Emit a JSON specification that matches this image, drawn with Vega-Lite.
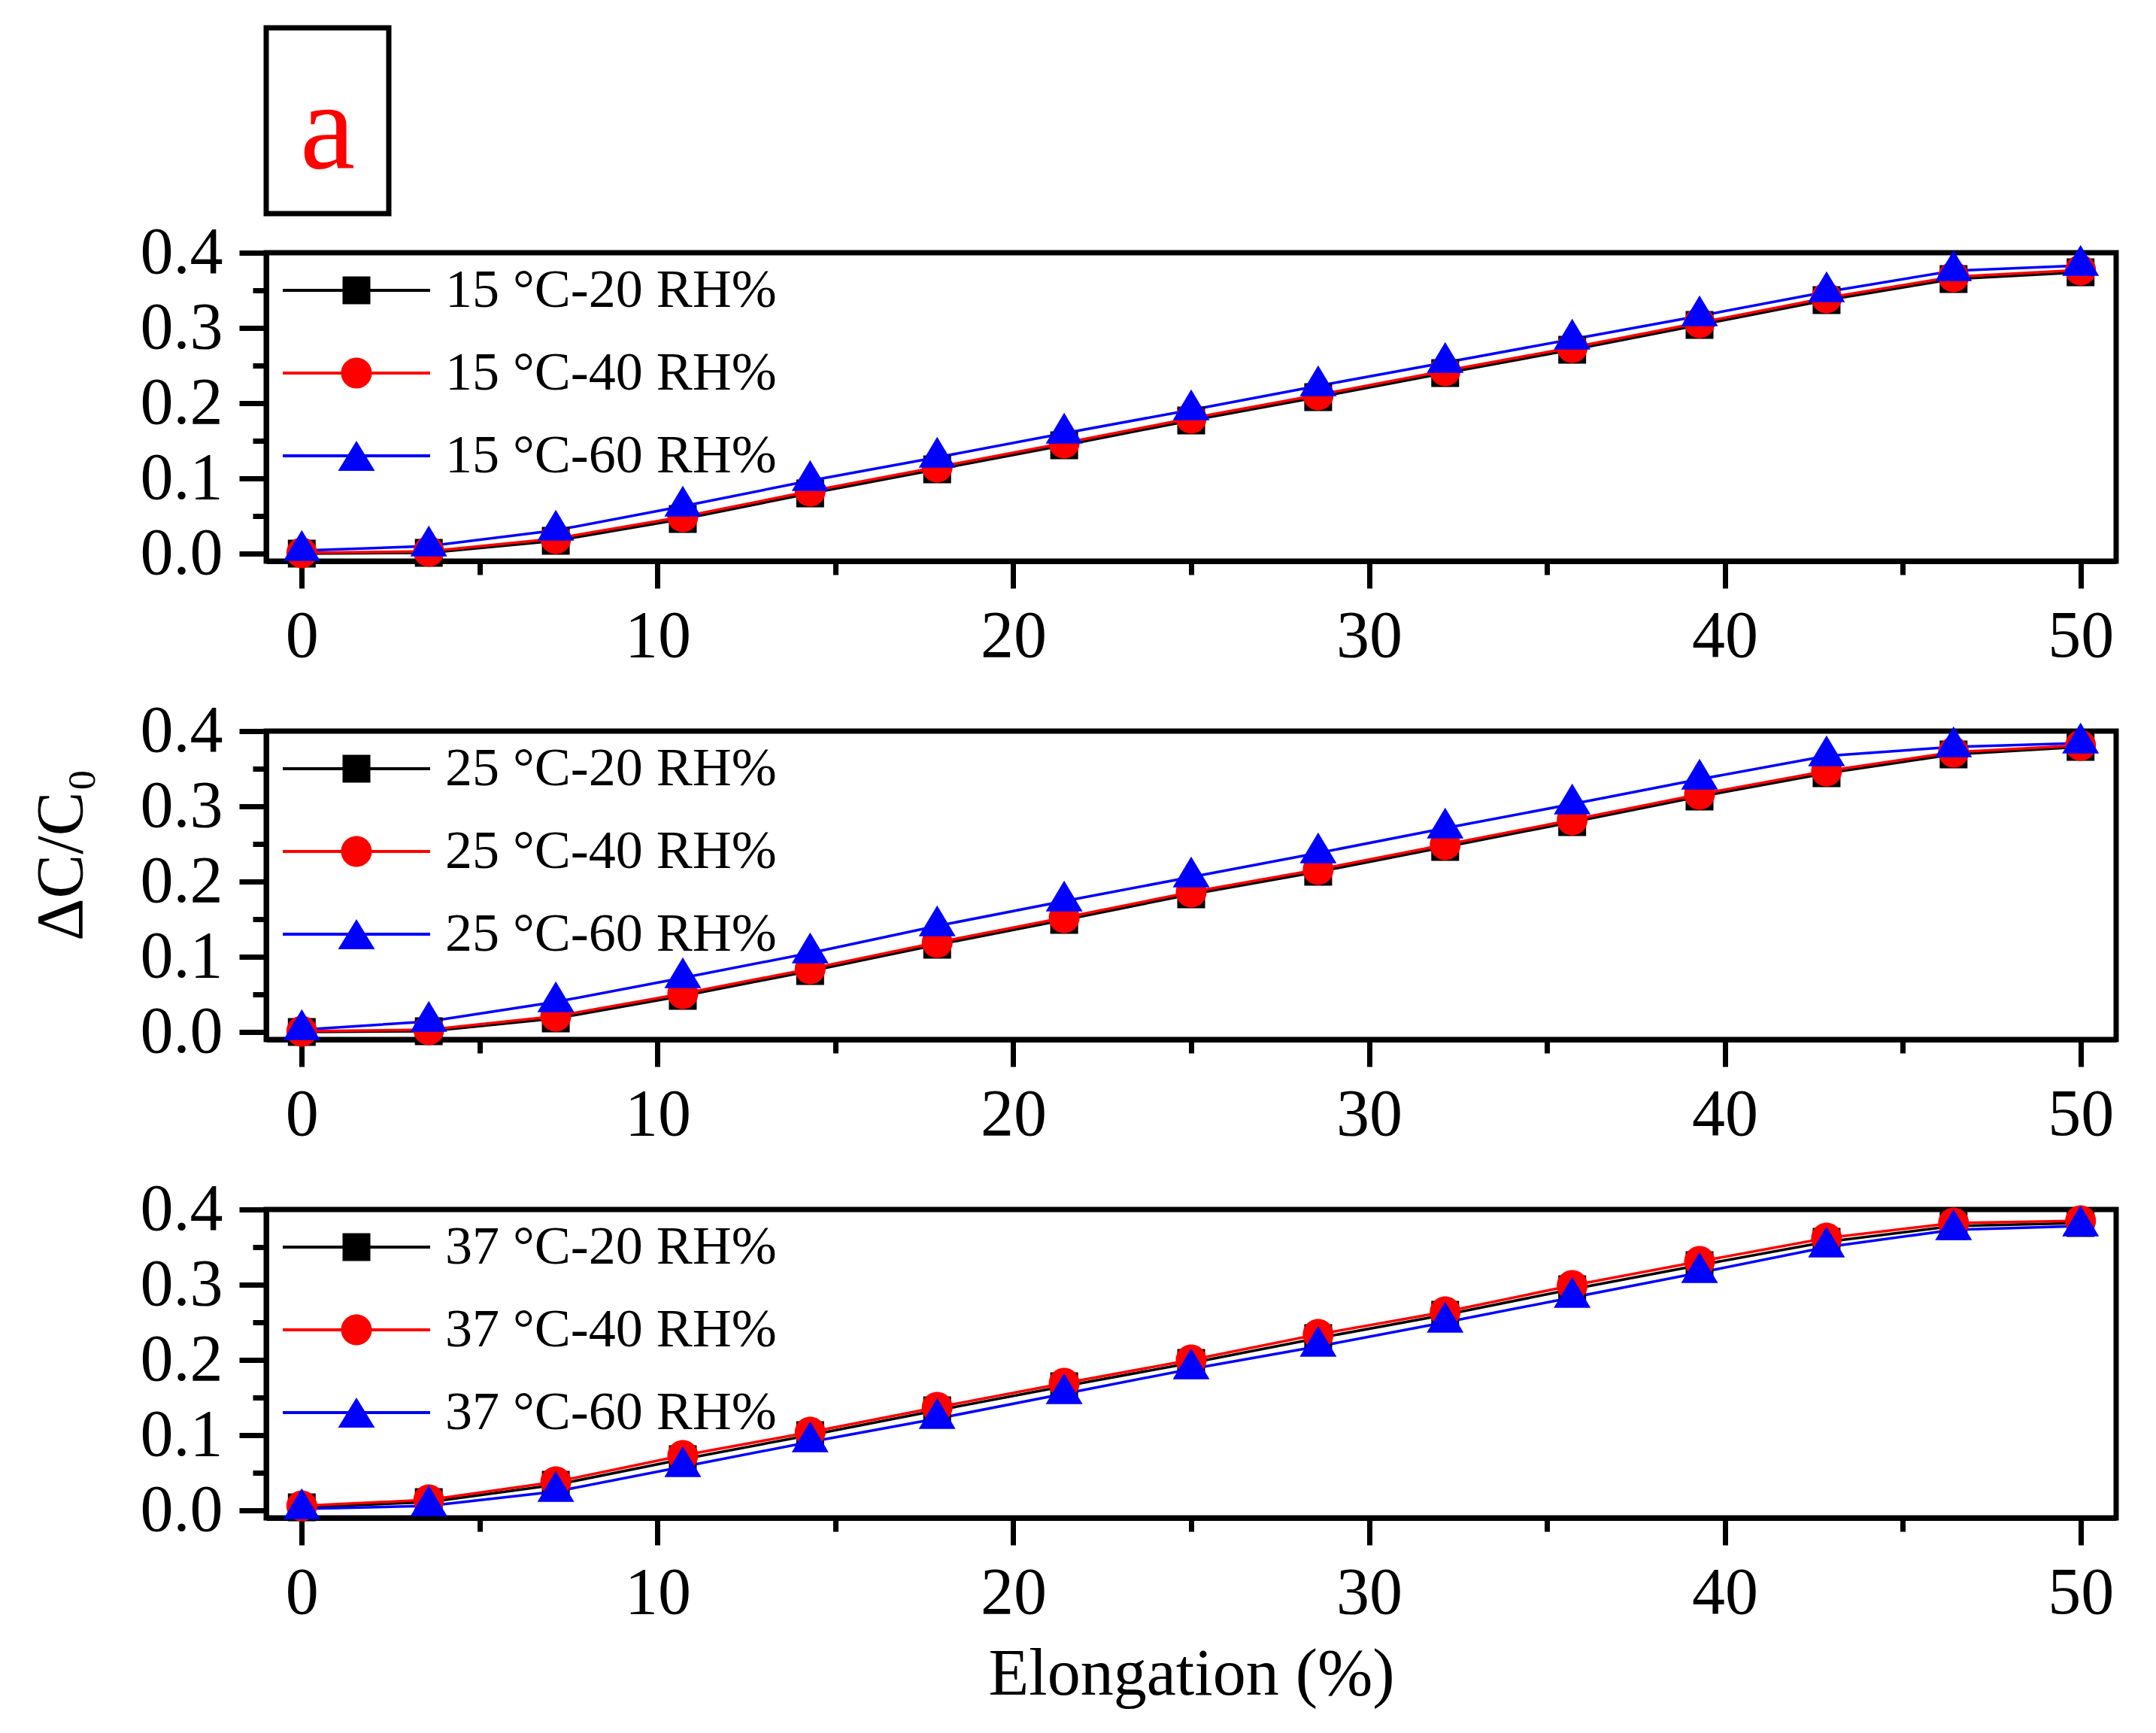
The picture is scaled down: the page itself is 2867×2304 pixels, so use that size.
{
  "$schema": "https://vega.github.io/schema/vega-lite/v6.json",
  "background": "white",
  "padding": {"left": 34, "top": 33, "right": 5, "bottom": 5},
  "datasets": {
    "p15": [
      {"x":0,"y":0.0,"s":"15 °C-20 RH%","rh":"20"},{"x":3.57,"y":0.001,"s":"15 °C-20 RH%","rh":"20"},{"x":7.14,"y":0.017,"s":"15 °C-20 RH%","rh":"20"},{"x":10.71,"y":0.046,"s":"15 °C-20 RH%","rh":"20"},{"x":14.29,"y":0.08,"s":"15 °C-20 RH%","rh":"20"},{"x":17.86,"y":0.112,"s":"15 °C-20 RH%","rh":"20"},{"x":21.43,"y":0.144,"s":"15 °C-20 RH%","rh":"20"},{"x":25,"y":0.177,"s":"15 °C-20 RH%","rh":"20"},{"x":28.57,"y":0.208,"s":"15 °C-20 RH%","rh":"20"},{"x":32.14,"y":0.24,"s":"15 °C-20 RH%","rh":"20"},{"x":35.71,"y":0.271,"s":"15 °C-20 RH%","rh":"20"},{"x":39.29,"y":0.304,"s":"15 °C-20 RH%","rh":"20"},{"x":42.86,"y":0.337,"s":"15 °C-20 RH%","rh":"20"},{"x":46.43,"y":0.365,"s":"15 °C-20 RH%","rh":"20"},{"x":50,"y":0.374,"s":"15 °C-20 RH%","rh":"20"},
      {"x":0,"y":0.001,"s":"15 °C-40 RH%","rh":"40"},{"x":3.57,"y":0.003,"s":"15 °C-40 RH%","rh":"40"},{"x":7.14,"y":0.02,"s":"15 °C-40 RH%","rh":"40"},{"x":10.71,"y":0.049,"s":"15 °C-40 RH%","rh":"40"},{"x":14.29,"y":0.083,"s":"15 °C-40 RH%","rh":"40"},{"x":17.86,"y":0.115,"s":"15 °C-40 RH%","rh":"40"},{"x":21.43,"y":0.147,"s":"15 °C-40 RH%","rh":"40"},{"x":25,"y":0.18,"s":"15 °C-40 RH%","rh":"40"},{"x":28.57,"y":0.211,"s":"15 °C-40 RH%","rh":"40"},{"x":32.14,"y":0.243,"s":"15 °C-40 RH%","rh":"40"},{"x":35.71,"y":0.274,"s":"15 °C-40 RH%","rh":"40"},{"x":39.29,"y":0.307,"s":"15 °C-40 RH%","rh":"40"},{"x":42.86,"y":0.34,"s":"15 °C-40 RH%","rh":"40"},{"x":46.43,"y":0.368,"s":"15 °C-40 RH%","rh":"40"},{"x":50,"y":0.377,"s":"15 °C-40 RH%","rh":"40"},
      {"x":0,"y":0.004,"s":"15 °C-60 RH%","rh":"60"},{"x":3.57,"y":0.01,"s":"15 °C-60 RH%","rh":"60"},{"x":7.14,"y":0.031,"s":"15 °C-60 RH%","rh":"60"},{"x":10.71,"y":0.063,"s":"15 °C-60 RH%","rh":"60"},{"x":14.29,"y":0.097,"s":"15 °C-60 RH%","rh":"60"},{"x":17.86,"y":0.128,"s":"15 °C-60 RH%","rh":"60"},{"x":21.43,"y":0.16,"s":"15 °C-60 RH%","rh":"60"},{"x":25,"y":0.191,"s":"15 °C-60 RH%","rh":"60"},{"x":28.57,"y":0.223,"s":"15 °C-60 RH%","rh":"60"},{"x":32.14,"y":0.254,"s":"15 °C-60 RH%","rh":"60"},{"x":35.71,"y":0.285,"s":"15 °C-60 RH%","rh":"60"},{"x":39.29,"y":0.316,"s":"15 °C-60 RH%","rh":"60"},{"x":42.86,"y":0.348,"s":"15 °C-60 RH%","rh":"60"},{"x":46.43,"y":0.376,"s":"15 °C-60 RH%","rh":"60"},{"x":50,"y":0.383,"s":"15 °C-60 RH%","rh":"60"}
    ],
    "p25": [
      {"x":0,"y":0.0,"s":"25 °C-20 RH%","rh":"20"},{"x":3.57,"y":0.001,"s":"25 °C-20 RH%","rh":"20"},{"x":7.14,"y":0.018,"s":"25 °C-20 RH%","rh":"20"},{"x":10.71,"y":0.048,"s":"25 °C-20 RH%","rh":"20"},{"x":14.29,"y":0.081,"s":"25 °C-20 RH%","rh":"20"},{"x":17.86,"y":0.116,"s":"25 °C-20 RH%","rh":"20"},{"x":21.43,"y":0.149,"s":"25 °C-20 RH%","rh":"20"},{"x":25,"y":0.183,"s":"25 °C-20 RH%","rh":"20"},{"x":28.57,"y":0.213,"s":"25 °C-20 RH%","rh":"20"},{"x":32.14,"y":0.246,"s":"25 °C-20 RH%","rh":"20"},{"x":35.71,"y":0.279,"s":"25 °C-20 RH%","rh":"20"},{"x":39.29,"y":0.313,"s":"25 °C-20 RH%","rh":"20"},{"x":42.86,"y":0.344,"s":"25 °C-20 RH%","rh":"20"},{"x":46.43,"y":0.369,"s":"25 °C-20 RH%","rh":"20"},{"x":50,"y":0.379,"s":"25 °C-20 RH%","rh":"20"},
      {"x":0,"y":0.001,"s":"25 °C-40 RH%","rh":"40"},{"x":3.57,"y":0.003,"s":"25 °C-40 RH%","rh":"40"},{"x":7.14,"y":0.021,"s":"25 °C-40 RH%","rh":"40"},{"x":10.71,"y":0.051,"s":"25 °C-40 RH%","rh":"40"},{"x":14.29,"y":0.084,"s":"25 °C-40 RH%","rh":"40"},{"x":17.86,"y":0.119,"s":"25 °C-40 RH%","rh":"40"},{"x":21.43,"y":0.152,"s":"25 °C-40 RH%","rh":"40"},{"x":25,"y":0.186,"s":"25 °C-40 RH%","rh":"40"},{"x":28.57,"y":0.216,"s":"25 °C-40 RH%","rh":"40"},{"x":32.14,"y":0.249,"s":"25 °C-40 RH%","rh":"40"},{"x":35.71,"y":0.282,"s":"25 °C-40 RH%","rh":"40"},{"x":39.29,"y":0.316,"s":"25 °C-40 RH%","rh":"40"},{"x":42.86,"y":0.347,"s":"25 °C-40 RH%","rh":"40"},{"x":46.43,"y":0.372,"s":"25 °C-40 RH%","rh":"40"},{"x":50,"y":0.381,"s":"25 °C-40 RH%","rh":"40"},
      {"x":0,"y":0.003,"s":"25 °C-60 RH%","rh":"60"},{"x":3.57,"y":0.014,"s":"25 °C-60 RH%","rh":"60"},{"x":7.14,"y":0.04,"s":"25 °C-60 RH%","rh":"60"},{"x":10.71,"y":0.072,"s":"25 °C-60 RH%","rh":"60"},{"x":14.29,"y":0.105,"s":"25 °C-60 RH%","rh":"60"},{"x":17.86,"y":0.141,"s":"25 °C-60 RH%","rh":"60"},{"x":21.43,"y":0.174,"s":"25 °C-60 RH%","rh":"60"},{"x":25,"y":0.206,"s":"25 °C-60 RH%","rh":"60"},{"x":28.57,"y":0.238,"s":"25 °C-60 RH%","rh":"60"},{"x":32.14,"y":0.271,"s":"25 °C-60 RH%","rh":"60"},{"x":35.71,"y":0.303,"s":"25 °C-60 RH%","rh":"60"},{"x":39.29,"y":0.336,"s":"25 °C-60 RH%","rh":"60"},{"x":42.86,"y":0.367,"s":"25 °C-60 RH%","rh":"60"},{"x":46.43,"y":0.379,"s":"25 °C-60 RH%","rh":"60"},{"x":50,"y":0.384,"s":"25 °C-60 RH%","rh":"60"}
    ],
    "p37": [
      {"x":0,"y":0.004,"s":"37 °C-20 RH%","rh":"20"},{"x":3.57,"y":0.011,"s":"37 °C-20 RH%","rh":"20"},{"x":7.14,"y":0.034,"s":"37 °C-20 RH%","rh":"20"},{"x":10.71,"y":0.068,"s":"37 °C-20 RH%","rh":"20"},{"x":14.29,"y":0.1,"s":"37 °C-20 RH%","rh":"20"},{"x":17.86,"y":0.133,"s":"37 °C-20 RH%","rh":"20"},{"x":21.43,"y":0.165,"s":"37 °C-20 RH%","rh":"20"},{"x":25,"y":0.196,"s":"37 °C-20 RH%","rh":"20"},{"x":28.57,"y":0.229,"s":"37 °C-20 RH%","rh":"20"},{"x":32.14,"y":0.26,"s":"37 °C-20 RH%","rh":"20"},{"x":35.71,"y":0.294,"s":"37 °C-20 RH%","rh":"20"},{"x":39.29,"y":0.326,"s":"37 °C-20 RH%","rh":"20"},{"x":42.86,"y":0.357,"s":"37 °C-20 RH%","rh":"20"},{"x":46.43,"y":0.378,"s":"37 °C-20 RH%","rh":"20"},{"x":50,"y":0.382,"s":"37 °C-20 RH%","rh":"20"},
      {"x":0,"y":0.006,"s":"37 °C-40 RH%","rh":"40"},{"x":3.57,"y":0.014,"s":"37 °C-40 RH%","rh":"40"},{"x":7.14,"y":0.038,"s":"37 °C-40 RH%","rh":"40"},{"x":10.71,"y":0.073,"s":"37 °C-40 RH%","rh":"40"},{"x":14.29,"y":0.104,"s":"37 °C-40 RH%","rh":"40"},{"x":17.86,"y":0.137,"s":"37 °C-40 RH%","rh":"40"},{"x":21.43,"y":0.169,"s":"37 °C-40 RH%","rh":"40"},{"x":25,"y":0.2,"s":"37 °C-40 RH%","rh":"40"},{"x":28.57,"y":0.234,"s":"37 °C-40 RH%","rh":"40"},{"x":32.14,"y":0.264,"s":"37 °C-40 RH%","rh":"40"},{"x":35.71,"y":0.299,"s":"37 °C-40 RH%","rh":"40"},{"x":39.29,"y":0.331,"s":"37 °C-40 RH%","rh":"40"},{"x":42.86,"y":0.362,"s":"37 °C-40 RH%","rh":"40"},{"x":46.43,"y":0.382,"s":"37 °C-40 RH%","rh":"40"},{"x":50,"y":0.385,"s":"37 °C-40 RH%","rh":"40"},
      {"x":0,"y":0.002,"s":"37 °C-60 RH%","rh":"60"},{"x":3.57,"y":0.006,"s":"37 °C-60 RH%","rh":"60"},{"x":7.14,"y":0.025,"s":"37 °C-60 RH%","rh":"60"},{"x":10.71,"y":0.058,"s":"37 °C-60 RH%","rh":"60"},{"x":14.29,"y":0.091,"s":"37 °C-60 RH%","rh":"60"},{"x":17.86,"y":0.122,"s":"37 °C-60 RH%","rh":"60"},{"x":21.43,"y":0.155,"s":"37 °C-60 RH%","rh":"60"},{"x":25,"y":0.188,"s":"37 °C-60 RH%","rh":"60"},{"x":28.57,"y":0.218,"s":"37 °C-60 RH%","rh":"60"},{"x":32.14,"y":0.25,"s":"37 °C-60 RH%","rh":"60"},{"x":35.71,"y":0.283,"s":"37 °C-60 RH%","rh":"60"},{"x":39.29,"y":0.316,"s":"37 °C-60 RH%","rh":"60"},{"x":42.86,"y":0.35,"s":"37 °C-60 RH%","rh":"60"},{"x":46.43,"y":0.373,"s":"37 °C-60 RH%","rh":"60"},{"x":50,"y":0.378,"s":"37 °C-60 RH%","rh":"60"}
    ],
    "boxlabel": [{"label": "a"}]
  },
  "vconcat": [
    {
      "vconcat": [
        {
          "width": 163, "height": 247,
          "view": {"stroke": "#000000", "strokeWidth": 7, "fill": "white"},
          "data": {"name": "boxlabel"},
          "mark": {"type": "text", "font": "Liberation Serif", "fontSize": 165, "color": "#FF0000", "align": "center", "baseline": "middle", "dy": 12},
          "encoding": {"text": {"field": "label", "type": "nominal"}}
        },
        {
          "width": 2460, "height": 410,
          "data": {"name": "p15"},
          "layer": [
            {"mark": {"type": "line", "strokeWidth": 3.5},
             "encoding": {
               "x": {"field": "x", "type": "quantitative", "scale": {"domain": [-1, 51], "nice": false, "zero": false}, "axis": {"orient": "bottom", "values": [0,10,20,30,40,50], "tickSize": 36, "labelPadding": 20, "title": null}},
               "y": {"field": "y", "type": "quantitative", "scale": {"domain": [-0.01, 0.4], "nice": false, "zero": false}, "axis": {"orient": "left", "values": [0,0.1,0.2,0.3,0.4], "format": ".1f", "tickSize": 36, "labelPadding": 22, "title": null}},
               "color": {"field": "s", "type": "nominal", "scale": {"domain": ["15 °C-20 RH%", "15 °C-40 RH%", "15 °C-60 RH%"], "range": ["#000000", "#FF0000", "#0000FF"]}}
             }},
            {"transform": [{"filter": {"field": "rh", "equal": "20"}}],
             "mark": {"type": "point", "filled": true, "opacity": 1, "size": 2500, "strokeWidth": 0, "shape": "M-0.74,-0.74H0.74V0.74H-0.74Z"},
             "encoding": {
               "x": {"field": "x", "type": "quantitative", "axis": {"orient": "bottom", "values": [5,15,25,35,45], "labels": false, "domain": false, "tickSize": 18, "title": null}},
               "y": {"field": "y", "type": "quantitative", "axis": {"orient": "left", "values": [0.05,0.15,0.25,0.35], "labels": false, "domain": false, "tickSize": 18, "title": null}},
               "color": {"field": "s", "type": "nominal"}
             }},
            {"transform": [{"filter": {"field": "rh", "equal": "40"}}],
             "mark": {"type": "point", "filled": true, "opacity": 1, "size": 2500, "strokeWidth": 0, "shape": "M-0.82,0A0.82,0.82,0,1,1,0.82,0A0.82,0.82,0,1,1,-0.82,0Z"},
             "encoding": {
               "x": {"field": "x", "type": "quantitative", "axis": null},
               "y": {"field": "y", "type": "quantitative", "axis": null},
               "color": {"field": "s", "type": "nominal"}
             }},
            {"transform": [{"filter": {"field": "rh", "equal": "60"}}],
             "mark": {"type": "point", "filled": true, "opacity": 1, "size": 2500, "strokeWidth": 0, "shape": "M0,-1.093L0.98,0.547L-0.98,0.547Z"},
             "encoding": {
               "x": {"field": "x", "type": "quantitative", "axis": null},
               "y": {"field": "y", "type": "quantitative", "axis": null},
               "color": {"field": "s", "type": "nominal"}
             }},
            {"transform": [{"filter": {"field": "rh", "equal": "none"}}],
             "mark": {"type": "point", "filled": true, "opacity": 1},
             "encoding": {
               "x": {"field": "x", "type": "quantitative", "axis": null},
               "y": {"field": "y", "type": "quantitative", "axis": null},
               "color": {"field": "s", "type": "nominal", "legend": {"title": null, "orient": "top-left"}},
               "shape": {"field": "s", "type": "nominal", "scale": {"domain": ["15 °C-20 RH%", "15 °C-40 RH%", "15 °C-60 RH%"], "range": ["M-2.45,-0.05H2.45V0.05H-2.45ZM-0.4625,-0.4625H0.4625V0.4625H-0.4625Z", "M-2.45,-0.05H2.45V0.05H-2.45ZM-0.5125,0A0.5125,0.5125,0,1,1,0.5125,0A0.5125,0.5125,0,1,1,-0.5125,0Z", "M-2.45,-0.05H2.45V0.05H-2.45ZM0,-0.5L0.6125,0.5L-0.6125,0.5Z"]}, "legend": {"title": null, "orient": "top-left"}}
             }}
          ],
          "resolve": {"axis": {"x": "independent", "y": "independent"}}
        }
      ],
      "spacing": 0,
      "resolve": {"scale": {"color": "independent", "shape": "independent"}, "legend": {"color": "independent", "shape": "independent"}}
    },
    {
      "width": 2460, "height": 410,
      "data": {"name": "p25"},
      "layer": [
        {"mark": {"type": "line", "strokeWidth": 3.5},
         "encoding": {
           "x": {"field": "x", "type": "quantitative", "scale": {"domain": [-1, 51], "nice": false, "zero": false}, "axis": {"orient": "bottom", "values": [0,10,20,30,40,50], "tickSize": 36, "labelPadding": 20, "title": null}},
           "y": {"field": "y", "type": "quantitative", "scale": {"domain": [-0.01, 0.4], "nice": false, "zero": false}, "axis": {"orient": "left", "values": [0,0.1,0.2,0.3,0.4], "format": ".1f", "tickSize": 36, "labelPadding": 22, "title": "ΔC/C₀", "titlePadding": 60, "titleY": 164}},
           "color": {"field": "s", "type": "nominal", "scale": {"domain": ["25 °C-20 RH%", "25 °C-40 RH%", "25 °C-60 RH%"], "range": ["#000000", "#FF0000", "#0000FF"]}}
         }},
        {"transform": [{"filter": {"field": "rh", "equal": "20"}}],
         "mark": {"type": "point", "filled": true, "opacity": 1, "size": 2500, "strokeWidth": 0, "shape": "M-0.74,-0.74H0.74V0.74H-0.74Z"},
         "encoding": {
           "x": {"field": "x", "type": "quantitative", "axis": {"orient": "bottom", "values": [5,15,25,35,45], "labels": false, "domain": false, "tickSize": 18, "title": null}},
           "y": {"field": "y", "type": "quantitative", "axis": {"orient": "left", "values": [0.05,0.15,0.25,0.35], "labels": false, "domain": false, "tickSize": 18, "title": null}},
           "color": {"field": "s", "type": "nominal"}
         }},
        {"transform": [{"filter": {"field": "rh", "equal": "40"}}],
         "mark": {"type": "point", "filled": true, "opacity": 1, "size": 2500, "strokeWidth": 0, "shape": "M-0.82,0A0.82,0.82,0,1,1,0.82,0A0.82,0.82,0,1,1,-0.82,0Z"},
         "encoding": {
           "x": {"field": "x", "type": "quantitative", "axis": null},
           "y": {"field": "y", "type": "quantitative", "axis": null},
           "color": {"field": "s", "type": "nominal"}
         }},
        {"transform": [{"filter": {"field": "rh", "equal": "60"}}],
         "mark": {"type": "point", "filled": true, "opacity": 1, "size": 2500, "strokeWidth": 0, "shape": "M0,-1.093L0.98,0.547L-0.98,0.547Z"},
         "encoding": {
           "x": {"field": "x", "type": "quantitative", "axis": null},
           "y": {"field": "y", "type": "quantitative", "axis": null},
           "color": {"field": "s", "type": "nominal"}
         }},
        {"transform": [{"filter": {"field": "rh", "equal": "none"}}],
         "mark": {"type": "point", "filled": true, "opacity": 1},
         "encoding": {
           "x": {"field": "x", "type": "quantitative", "axis": null},
           "y": {"field": "y", "type": "quantitative", "axis": null},
           "color": {"field": "s", "type": "nominal", "legend": {"title": null, "orient": "top-left"}},
           "shape": {"field": "s", "type": "nominal", "scale": {"domain": ["25 °C-20 RH%", "25 °C-40 RH%", "25 °C-60 RH%"], "range": ["M-2.45,-0.05H2.45V0.05H-2.45ZM-0.4625,-0.4625H0.4625V0.4625H-0.4625Z", "M-2.45,-0.05H2.45V0.05H-2.45ZM-0.5125,0A0.5125,0.5125,0,1,1,0.5125,0A0.5125,0.5125,0,1,1,-0.5125,0Z", "M-2.45,-0.05H2.45V0.05H-2.45ZM0,-0.5L0.6125,0.5L-0.6125,0.5Z"]}, "legend": {"title": null, "orient": "top-left"}}
         }}
      ],
      "resolve": {"axis": {"x": "independent", "y": "independent"}}
    },
    {
      "width": 2460, "height": 410,
      "data": {"name": "p37"},
      "layer": [
        {"mark": {"type": "line", "strokeWidth": 3.5},
         "encoding": {
           "x": {"field": "x", "type": "quantitative", "scale": {"domain": [-1, 51], "nice": false, "zero": false}, "axis": {"orient": "bottom", "values": [0,10,20,30,40,50], "tickSize": 36, "labelPadding": 20, "title": "Elongation (%)", "titlePadding": 20}},
           "y": {"field": "y", "type": "quantitative", "scale": {"domain": [-0.01, 0.4], "nice": false, "zero": false}, "axis": {"orient": "left", "values": [0,0.1,0.2,0.3,0.4], "format": ".1f", "tickSize": 36, "labelPadding": 22, "title": null}},
           "color": {"field": "s", "type": "nominal", "scale": {"domain": ["37 °C-20 RH%", "37 °C-40 RH%", "37 °C-60 RH%"], "range": ["#000000", "#FF0000", "#0000FF"]}}
         }},
        {"transform": [{"filter": {"field": "rh", "equal": "20"}}],
         "mark": {"type": "point", "filled": true, "opacity": 1, "size": 2500, "strokeWidth": 0, "shape": "M-0.74,-0.74H0.74V0.74H-0.74Z"},
         "encoding": {
           "x": {"field": "x", "type": "quantitative", "axis": {"orient": "bottom", "values": [5,15,25,35,45], "labels": false, "domain": false, "tickSize": 18, "title": null}},
           "y": {"field": "y", "type": "quantitative", "axis": {"orient": "left", "values": [0.05,0.15,0.25,0.35], "labels": false, "domain": false, "tickSize": 18, "title": null}},
           "color": {"field": "s", "type": "nominal"}
         }},
        {"transform": [{"filter": {"field": "rh", "equal": "40"}}],
         "mark": {"type": "point", "filled": true, "opacity": 1, "size": 2500, "strokeWidth": 0, "shape": "M-0.82,0A0.82,0.82,0,1,1,0.82,0A0.82,0.82,0,1,1,-0.82,0Z"},
         "encoding": {
           "x": {"field": "x", "type": "quantitative", "axis": null},
           "y": {"field": "y", "type": "quantitative", "axis": null},
           "color": {"field": "s", "type": "nominal"}
         }},
        {"transform": [{"filter": {"field": "rh", "equal": "60"}}],
         "mark": {"type": "point", "filled": true, "opacity": 1, "size": 2500, "strokeWidth": 0, "shape": "M0,-1.093L0.98,0.547L-0.98,0.547Z"},
         "encoding": {
           "x": {"field": "x", "type": "quantitative", "axis": null},
           "y": {"field": "y", "type": "quantitative", "axis": null},
           "color": {"field": "s", "type": "nominal"}
         }},
        {"transform": [{"filter": {"field": "rh", "equal": "none"}}],
         "mark": {"type": "point", "filled": true, "opacity": 1},
         "encoding": {
           "x": {"field": "x", "type": "quantitative", "axis": null},
           "y": {"field": "y", "type": "quantitative", "axis": null},
           "color": {"field": "s", "type": "nominal", "legend": {"title": null, "orient": "top-left"}},
           "shape": {"field": "s", "type": "nominal", "scale": {"domain": ["37 °C-20 RH%", "37 °C-40 RH%", "37 °C-60 RH%"], "range": ["M-2.45,-0.05H2.45V0.05H-2.45ZM-0.4625,-0.4625H0.4625V0.4625H-0.4625Z", "M-2.45,-0.05H2.45V0.05H-2.45ZM-0.5125,0A0.5125,0.5125,0,1,1,0.5125,0A0.5125,0.5125,0,1,1,-0.5125,0Z", "M-2.45,-0.05H2.45V0.05H-2.45ZM0,-0.5L0.6125,0.5L-0.6125,0.5Z"]}, "legend": {"title": null, "orient": "top-left"}}
         }}
      ],
      "resolve": {"axis": {"x": "independent", "y": "independent"}}
    }
  ],
  "spacing": 30,
  "resolve": {"scale": {"color": "independent", "shape": "independent"}, "legend": {"color": "independent", "shape": "independent"}},
  "config": {
    "view": {"stroke": "#000000", "strokeWidth": 7},
    "axis": {"labelFont": "Liberation Serif", "labelFontSize": 88, "labelColor": "#000000", "titleFont": "Liberation Serif", "titleFontSize": 88, "titleFontWeight": "normal", "titleColor": "#000000", "domainColor": "#000000", "domainWidth": 7, "tickColor": "#000000", "tickWidth": 7, "grid": false},
    "legend": {"labelFont": "Liberation Serif", "labelFontSize": 72, "labelColor": "#000000", "symbolSize": 6400, "symbolStrokeWidth": 0, "symbolOffset": 70, "labelOffset": 78, "rowPadding": 34, "padding": 0, "offset": 10, "symbolOpacity": 1, "labelLimit": 0}
  }
}
